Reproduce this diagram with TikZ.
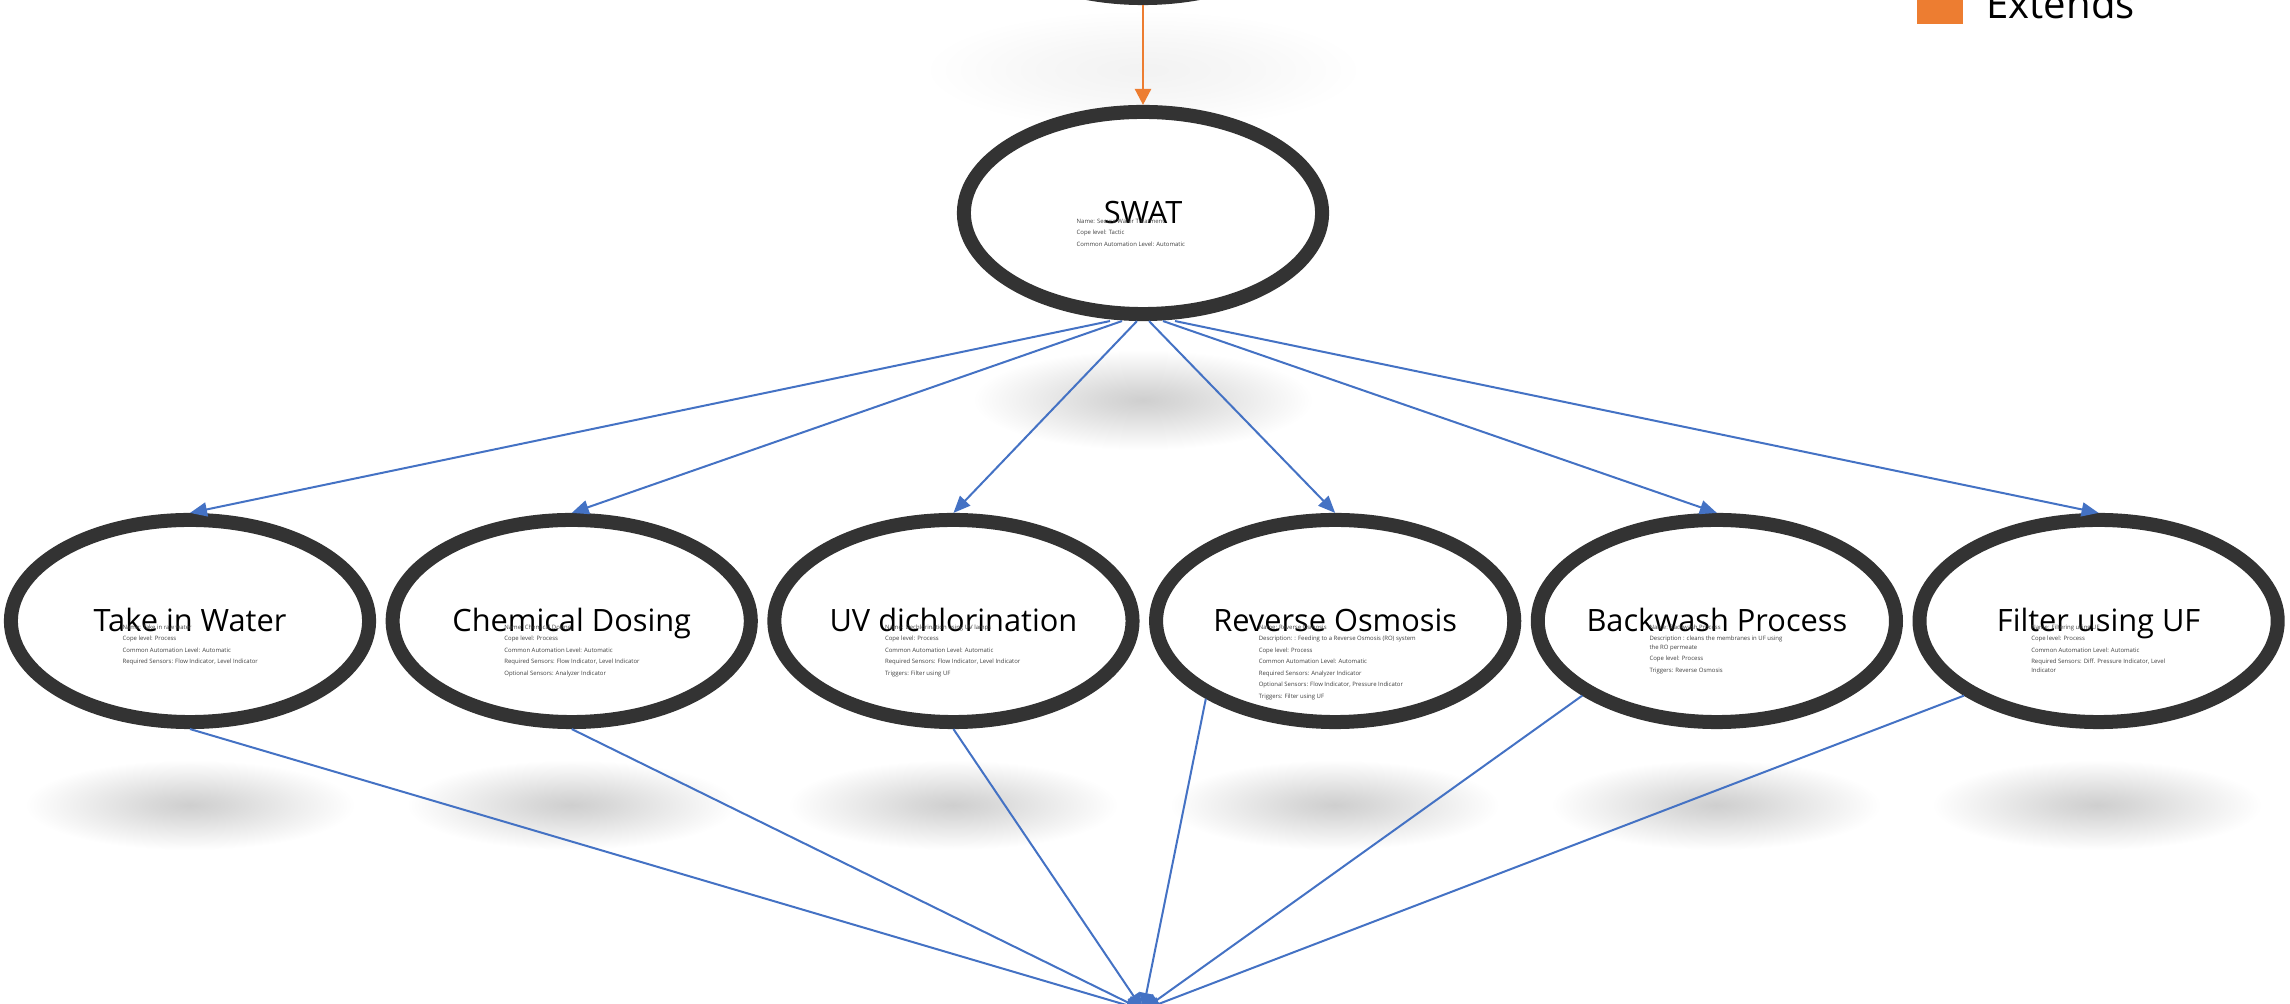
\documentclass[tikz,border=0pt]{standalone}
\usepackage{fontspec}
\setmainfont{Open Sans}
\usepackage{tikz}
\usetikzlibrary{shapes.geometric}
\usetikzlibrary{positioning}
\usetikzlibrary{arrows.meta}
\definecolor{ucgray}{HTML}{333333}
\definecolor{ucblue}{HTML}{4472C4}
\definecolor{ucorange}{HTML}{ED7D31}
\pgfdeclareradialshading{softshadow}{\pgfpoint{0bp}{0bp}}{color(0bp)=(black!19); color(6bp)=(black!15); color(25bp)=(white); color(50bp)=(white)}
\pgfdeclareradialshading{faintshadow}{\pgfpoint{0bp}{0bp}}{color(0bp)=(black!5); color(12bp)=(black!3); color(25bp)=(white); color(50bp)=(white)}
\tikzstyle{usecase} = [ellipse, draw=ucgray, line width=0.14cm, fill=white, minimum width=3.58cm, minimum height=2.02cm, inner xsep=-0.4cm, inner ysep=0pt, text height=7.6pt, text depth=1.5pt, font=\fontsize{8.75}{10}\selectfont]
\tikzstyle{details} = [anchor=north west, align=left, inner sep=0pt, text=black!75, font=\fontsize{1.7}{3.27}\selectfont]
\tikzstyle{relarrow} = [draw=ucblue, line width=0.02cm, -{Triangle[length=0.17cm,width=0.14cm]}]
\tikzstyle{extarrow} = [draw=ucorange, line width=0.025cm, -{Triangle[length=0.16cm,width=0.16cm]}]

\begin{document}
\begin{tikzpicture}[x=0.01cm, y=-0.01cm]
        \useasboundingbox (0,0) rectangle (2290,1004);
        \clip (0,0) rectangle (2290,1004);

        % shadows
        \shade[shading=faintshadow] (1143,70) ellipse [x radius=2.2cm, y radius=0.6cm];
        \shade[shading=softshadow] (1143,400) ellipse [x radius=1.7cm, y radius=0.5cm];
        \foreach \sx in {190,571.5,953,1334.5,1716,2097}
            \shade[shading=softshadow] (\sx,805) ellipse [x radius=1.65cm, y radius=0.45cm];

        \node (parent) [usecase] at (1143,-103) {};
        \node (swat) [usecase] at (1143,213) {SWAT};
        \node (take) [usecase] at (190,621) {Take in Water};
        \node (chem) [usecase, right=0.095cm of take] {Chemical Dosing};
        \node (uv) [usecase, right=0.095cm of chem] {UV dichlorination};
        \node (ro) [usecase, right=0.095cm of uv] {Reverse Osmosis};
        \node (backwash) [usecase, right=0.095cm of ro] {Backwash Process};
        \node (filter) [usecase, right=0.095cm of backwash] {Filter using UF};
        \node (sink) [usecase] at (1143,1118) {};

        \node (swatinfo) [details] at ([xshift=-0.67cm, yshift=-0.05cm]swat.center) {Name: Secure Water Treatment\\Cope level: Tactic\\Common Automation Level: Automatic};
        \node (takeinfo) [details] at ([xshift=-0.68cm, yshift=-0.03cm]take.center) {Name: Take in raw water\\Cope level: Process\\Common Automation Level: Automatic\\Required Sensors: Flow Indicator, Level Indicator};
        \node (cheminfo) [details] at ([xshift=-0.68cm, yshift=-0.03cm]chem.center) {Name: Chemical Dosing\\Cope level: Process\\Common Automation Level: Automatic\\Required Sensors: Flow Indicator, Level Indicator\\Optional Sensors: Analyzer Indicator};
        \node (uvinfo) [details] at ([xshift=-0.69cm, yshift=-0.03cm]uv.center) {Name: Dechlorination using UV lamps\\Cope level: Process\\Common Automation Level: Automatic\\Required Sensors: Flow Indicator, Level Indicator\\Triggers: Filter using UF};
        \node (roinfo) [details] at ([xshift=-0.77cm, yshift=-0.03cm]ro.center) {Name: Reverse Osmosis\\Description: : Feeding to a Reverse Osmosis (RO) system\\Cope level: Process\\Common Automation Level: Automatic\\Required Sensors: Analyzer Indicator\\Optional Sensors: Flow Indicator, Pressure Indicator\\Triggers: Filter using UF};
        \node (backwashinfo) [details] at ([xshift=-0.68cm, yshift=-0.03cm]backwash.center) {Name: Backwash Process\\Description : cleans the membranes in UF using\\[-0.8pt]the RO permeate\\Cope level: Process\\Triggers: Reverse Osmosis};
        \node (filterinfo) [details] at ([xshift=-0.68cm, yshift=-0.03cm]filter.center) {Name: Filtering using UF\\Cope level: Process\\Common Automation Level: Automatic\\Required Sensors: Diff. Pressure Indicator, Level\\[-0.8pt]Indicator};

        % legend
        \node (extkey) [fill=ucorange, minimum size=0.46cm, inner sep=0pt] at (1940,1) {};
        \node (extlabel) [right=0.22cm of extkey, yshift=-0.02cm, inner sep=0pt, font=\fontsize{11.4}{13}\selectfont] {Extends};

        \draw [extarrow] (parent.south) -- (swat.north);

        \draw [relarrow] ([xshift=-0.33cm]swat.south) -- (take.north);
        \draw [relarrow] ([xshift=-0.21cm]swat.south) -- (chem.north);
        \draw [relarrow] ([xshift=-0.06cm]swat.south) -- (uv.north);
        \draw [relarrow] ([xshift=0.06cm]swat.south) -- (ro.north);
        \draw [relarrow] ([xshift=0.2cm]swat.south) -- (backwash.north);
        \draw [relarrow] ([xshift=0.32cm]swat.south) -- (filter.north);

        \draw [relarrow] (take.south) -- (sink.north);
        \draw [relarrow] (chem.south) -- (sink.north);
        \draw [relarrow] (uv.south) -- (sink.north);
        \draw [relarrow] (ro.211) -- (sink.north);
        \draw [relarrow] (backwash.209) -- (sink.north);
        \draw [relarrow] (filter.209) -- (sink.north);
    \end{tikzpicture}
\end{document}
